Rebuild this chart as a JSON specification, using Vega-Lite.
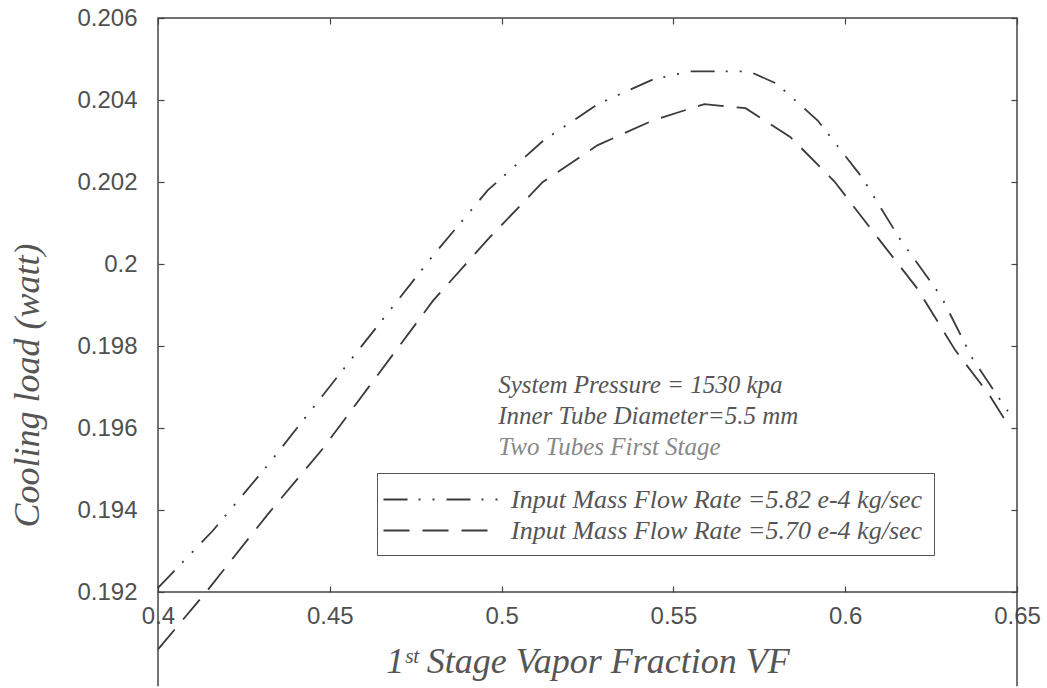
{
  "$schema": "https://vega.github.io/schema/vega-lite/v6.json",
  "width": 859,
  "height": 574,
  "autosize": {"type": "none"},
  "padding": {"left": 158, "top": 18, "right": 30, "bottom": 96},
  "background": "white",
  "config": {
    "view": {"stroke": "#444", "strokeWidth": 1.5},
    "axis": {
      "grid": false,
      "domain": false,
      "labelFont": "Liberation Sans",
      "labelFontSize": 24,
      "labelColor": "#505050",
      "tickColor": "#444",
      "tickSize": -6,
      "tickWidth": 1.2,
      "labelFlush": false,
      "labelOverlap": false,
      "titleFont": "Liberation Serif",
      "titleFontStyle": "italic",
      "titleFontWeight": "normal",
      "titleColor": "#555"
    },
    "legend": {
      "orient": "none",
      "legendX": 219,
      "legendY": 455,
      "padding": 11,
      "strokeColor": "#555",
      "fillColor": "white",
      "symbolType": "M-4,0H4",
      "symbolSize": 841,
      "symbolOffset": 38,
      "symbolStrokeWidth": 1.8,
      "symbolStrokeColor": "#3a3a3a",
      "symbolFillColor": "transparent",
      "labelOffset": 54,
      "labelFont": "Liberation Serif",
      "labelFontStyle": "italic",
      "labelFontSize": 26,
      "labelColor": "#555",
      "labelLimit": 0,
      "rowPadding": 2
    }
  },
  "datasets": {
    "curves": [
      {"flow": "Input Mass Flow Rate =5.82 e-4 kg/sec", "vf": 0.400, "load": 0.1921},
      {"flow": "Input Mass Flow Rate =5.82 e-4 kg/sec", "vf": 0.416, "load": 0.1935},
      {"flow": "Input Mass Flow Rate =5.82 e-4 kg/sec", "vf": 0.432, "load": 0.1951},
      {"flow": "Input Mass Flow Rate =5.82 e-4 kg/sec", "vf": 0.448, "load": 0.1968},
      {"flow": "Input Mass Flow Rate =5.82 e-4 kg/sec", "vf": 0.464, "load": 0.1985},
      {"flow": "Input Mass Flow Rate =5.82 e-4 kg/sec", "vf": 0.480, "load": 0.2002},
      {"flow": "Input Mass Flow Rate =5.82 e-4 kg/sec", "vf": 0.496, "load": 0.2018},
      {"flow": "Input Mass Flow Rate =5.82 e-4 kg/sec", "vf": 0.512, "load": 0.2030},
      {"flow": "Input Mass Flow Rate =5.82 e-4 kg/sec", "vf": 0.528, "load": 0.2039},
      {"flow": "Input Mass Flow Rate =5.82 e-4 kg/sec", "vf": 0.544, "load": 0.2045},
      {"flow": "Input Mass Flow Rate =5.82 e-4 kg/sec", "vf": 0.555, "load": 0.2047},
      {"flow": "Input Mass Flow Rate =5.82 e-4 kg/sec", "vf": 0.572, "load": 0.2047},
      {"flow": "Input Mass Flow Rate =5.82 e-4 kg/sec", "vf": 0.580, "load": 0.2044},
      {"flow": "Input Mass Flow Rate =5.82 e-4 kg/sec", "vf": 0.592, "load": 0.2035},
      {"flow": "Input Mass Flow Rate =5.82 e-4 kg/sec", "vf": 0.605, "load": 0.2021},
      {"flow": "Input Mass Flow Rate =5.82 e-4 kg/sec", "vf": 0.616, "load": 0.2006},
      {"flow": "Input Mass Flow Rate =5.82 e-4 kg/sec", "vf": 0.628, "load": 0.1992},
      {"flow": "Input Mass Flow Rate =5.82 e-4 kg/sec", "vf": 0.637, "load": 0.1977},
      {"flow": "Input Mass Flow Rate =5.82 e-4 kg/sec", "vf": 0.649, "load": 0.1962},
      {"flow": "Input Mass Flow Rate =5.70 e-4 kg/sec", "vf": 0.400, "load": 0.1906},
      {"flow": "Input Mass Flow Rate =5.70 e-4 kg/sec", "vf": 0.414, "load": 0.1920},
      {"flow": "Input Mass Flow Rate =5.70 e-4 kg/sec", "vf": 0.432, "load": 0.1939},
      {"flow": "Input Mass Flow Rate =5.70 e-4 kg/sec", "vf": 0.448, "load": 0.1955},
      {"flow": "Input Mass Flow Rate =5.70 e-4 kg/sec", "vf": 0.464, "load": 0.1973},
      {"flow": "Input Mass Flow Rate =5.70 e-4 kg/sec", "vf": 0.480, "load": 0.1991},
      {"flow": "Input Mass Flow Rate =5.70 e-4 kg/sec", "vf": 0.496, "load": 0.2006},
      {"flow": "Input Mass Flow Rate =5.70 e-4 kg/sec", "vf": 0.512, "load": 0.2020},
      {"flow": "Input Mass Flow Rate =5.70 e-4 kg/sec", "vf": 0.528, "load": 0.2029},
      {"flow": "Input Mass Flow Rate =5.70 e-4 kg/sec", "vf": 0.544, "load": 0.2035},
      {"flow": "Input Mass Flow Rate =5.70 e-4 kg/sec", "vf": 0.559, "load": 0.2039},
      {"flow": "Input Mass Flow Rate =5.70 e-4 kg/sec", "vf": 0.571, "load": 0.2038},
      {"flow": "Input Mass Flow Rate =5.70 e-4 kg/sec", "vf": 0.584, "load": 0.2031},
      {"flow": "Input Mass Flow Rate =5.70 e-4 kg/sec", "vf": 0.597, "load": 0.2020},
      {"flow": "Input Mass Flow Rate =5.70 e-4 kg/sec", "vf": 0.608, "load": 0.2008},
      {"flow": "Input Mass Flow Rate =5.70 e-4 kg/sec", "vf": 0.621, "load": 0.1994},
      {"flow": "Input Mass Flow Rate =5.70 e-4 kg/sec", "vf": 0.632, "load": 0.1979},
      {"flow": "Input Mass Flow Rate =5.70 e-4 kg/sec", "vf": 0.642, "load": 0.1968},
      {"flow": "Input Mass Flow Rate =5.70 e-4 kg/sec", "vf": 0.648, "load": 0.1960}
    ],
    "frameEdges": [
      {"vf": 0.4},
      {"vf": 0.65}
    ],
    "notes": [
      {"note": "System Pressure = 1530 kpa"}
    ]
  },
  "layer": [
    {
      "data": {"name": "curves"},
      "mark": {"type": "line", "stroke": "#3a3a3a", "strokeWidth": 1.8, "clip": false},
      "encoding": {
        "x": {
          "field": "vf",
          "type": "quantitative",
          "scale": {"domain": [0.4, 0.65], "nice": false, "zero": false},
          "axis": {
            "orient": "bottom",
            "values": [0.4, 0.45, 0.5, 0.55, 0.6, 0.65],
            "format": "~g",
            "labelPadding": 18,
            "title": "1ˢᵗ Stage Vapor Fraction VF",
            "titleFontSize": 36,
            "titleX": 429.5,
            "titleY": 80,
            "titleBaseline": "alphabetic"
          }
        },
        "y": {
          "field": "load",
          "type": "quantitative",
          "scale": {"domain": [0.192, 0.206], "nice": false, "zero": false},
          "axis": {
            "orient": "left",
            "values": [0.192, 0.194, 0.196, 0.198, 0.2, 0.202, 0.204, 0.206],
            "format": "~g",
            "labelPadding": 27,
            "title": "Cooling load (watt)",
            "titleFontSize": 36,
            "titleAngle": -90,
            "titleX": -120,
            "titleY": 367,
            "titleBaseline": "alphabetic"
          }
        },
        "strokeDash": {
          "field": "flow",
          "type": "nominal",
          "scale": {
            "domain": ["Input Mass Flow Rate =5.82 e-4 kg/sec", "Input Mass Flow Rate =5.70 e-4 kg/sec"],
            "range": [[24, 11, 2, 12, 2, 12], [26, 13]]
          },
          "legend": {"title": null}
        }
      }
    },
    {
      "data": {"name": "frameEdges"},
      "mark": {"type": "rule", "stroke": "#444", "strokeWidth": 1.5},
      "encoding": {
        "x": {
          "field": "vf",
          "type": "quantitative",
          "axis": {"orient": "top", "values": [0.4, 0.45, 0.5, 0.55, 0.6, 0.65], "labels": false, "title": null}
        },
        "y": {
          "datum": 0.192,
          "type": "quantitative",
          "axis": {"orient": "right", "values": [0.192, 0.194, 0.196, 0.198, 0.2, 0.202, 0.204, 0.206], "labels": false, "title": null}
        },
        "y2": {"datum": 0.1897}
      }
    },
    {
      "data": {"name": "notes"},
      "mark": {"type": "text", "align": "left", "baseline": "middle", "font": "Liberation Serif", "fontStyle": "italic", "fontSize": 25, "color": "#555"},
      "encoding": {
        "x": {"datum": 0.499, "type": "quantitative", "axis": null},
        "y": {"datum": 0.19705, "type": "quantitative", "axis": null},
        "text": {"value": "System Pressure = 1530 kpa"}
      }
    },
    {
      "data": {"name": "notes"},
      "mark": {"type": "text", "align": "left", "baseline": "middle", "font": "Liberation Serif", "fontStyle": "italic", "fontSize": 25, "color": "#555"},
      "encoding": {
        "x": {"datum": 0.499, "type": "quantitative", "axis": null},
        "y": {"datum": 0.19629, "type": "quantitative", "axis": null},
        "text": {"value": "Inner Tube Diameter=5.5 mm"}
      }
    },
    {
      "data": {"name": "notes"},
      "mark": {"type": "text", "align": "left", "baseline": "middle", "font": "Liberation Serif", "fontStyle": "italic", "fontSize": 25, "color": "#888"},
      "encoding": {
        "x": {"datum": 0.499, "type": "quantitative", "axis": null},
        "y": {"datum": 0.19554, "type": "quantitative", "axis": null},
        "text": {"value": "Two Tubes First Stage"}
      }
    }
  ],
  "resolve": {"axis": {"x": "independent", "y": "independent"}}
}
